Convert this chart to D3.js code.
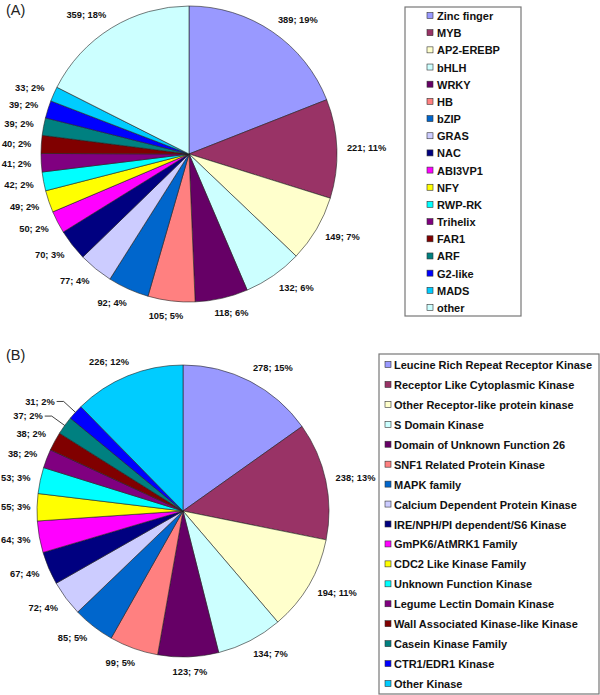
<!DOCTYPE html>
<html>
<head>
<meta charset="utf-8">
<script src="https://cdn.jsdelivr.net/npm/d3@7"></script>
<style>
  html, body { margin: 0; padding: 0; background: #fff; }
  svg { display: block; }
</style>
</head>
<body>
<svg id="chart" width="600" height="695"></svg>
<script>
// ---------- Data: panel A (transcription factor families) ----------
const categoriesA = ["Zinc finger","MYB","AP2-EREBP","bHLH","WRKY","HB","bZIP","GRAS","NAC","ABI3VP1","NFY","RWP-RK","Trihelix","FAR1","ARF","G2-like","MADS","other"];
const valuesA = [389,221,149,132,118,105,92,77,70,50,49,42,41,40,39,39,33,359];
const colorsA = ["#9999FF","#993366","#FFFFCC","#CCFFFF","#660066","#FF8080","#0066CC","#CCCCFF","#000080","#FF00FF","#FFFF00","#00FFFF","#800080","#800000","#008080","#0000FF","#00CCFF","#CCFFFF"];

// ---------- Data: panel B (kinase families) ----------
const categoriesB = ["Leucine Rich Repeat Receptor Kinase","Receptor Like Cytoplasmic Kinase","Other Receptor-like protein kinase","S Domain Kinase","Domain of Unknown Function 26","SNF1 Related Protein Kinase","MAPK family","Calcium Dependent Protein Kinase","IRE/NPH/PI dependent/S6 Kinase","GmPK6/AtMRK1 Family","CDC2 Like Kinase Family","Unknown Function Kinase","Legume Lectin Domain Kinase","Wall Associated Kinase-like Kinase","Casein Kinase Family","CTR1/EDR1 Kinase","Other Kinase"];
const valuesB = [278,238,194,134,123,99,85,72,67,64,55,53,38,38,37,31,226];
const colorsB = ["#9999FF","#993366","#FFFFCC","#CCFFFF","#660066","#FF8080","#0066CC","#CCCCFF","#000080","#FF00FF","#FFFF00","#00FFFF","#800080","#800000","#008080","#0000FF","#00CCFF"];

const svg = d3.select("#chart");
const labelFont = "'Liberation Sans', Arial, Helvetica, sans-serif";

function drawPanel(opts) {
  const { title, titleY, cats, vals, cols, cx, cy, r, legend, leaders } = opts;
  const total = d3.sum(vals);
  const data = cats.map((c, i) => ({ name: c, value: vals[i], color: cols[i], i }));
  const pie = d3.pie().value(d => d.value).sort(null);
  const arcs = pie(data);
  const arc = d3.arc().innerRadius(0).outerRadius(r);

  svg.append("text")
    .attr("x", 6).attr("y", titleY)
    .attr("font-family", labelFont).attr("font-size", 14.5)
    .attr("fill", "#222").text(title);

  const g = svg.append("g").attr("transform", `translate(${cx},${cy})`);
  g.selectAll("path").data(arcs).enter().append("path")
    .attr("d", arc)
    .attr("fill", d => d.data.color)
    .attr("stroke", "#222")
    .attr("stroke-width", 0.6);

  // labels
  const lblArc = d3.arc().innerRadius(r + 10).outerRadius(r + 10);
  const elbowArc = d3.arc().innerRadius(r + 16).outerRadius(r + 16);
  const edgeArc = d3.arc().innerRadius(r).outerRadius(r);
  const fs = 9.3;
  arcs.forEach(a => {
    const mid = (a.startAngle + a.endAngle) / 2;
    const s = Math.sin(mid), c = Math.cos(mid);
    const txt = `${a.data.value}; ${Math.round(a.data.value / total * 100)}%`;
    const t = g.append("text")
      .attr("font-family", labelFont)
      .attr("font-size", fs)
      .attr("font-weight", "bold")
      .attr("fill", "#111")
      .text(txt);
    const w = t.node().getComputedTextLength();
    if (leaders && leaders.includes(a.index)) {
      const e = edgeArc.centroid(a);
      const b = elbowArc.centroid(a);
      const hx = b[0] - 7;
      g.append("polyline")
        .attr("points", `${e[0]},${e[1]} ${b[0]},${b[1]} ${hx},${b[1]}`)
        .attr("fill", "none").attr("stroke", "#111").attr("stroke-width", 0.8);
      t.attr("x", hx - 2 - w).attr("y", b[1] + fs * 0.35);
    } else {
      const p = lblArc.centroid(a);
      const k = Math.max(-1, Math.min(1, s * 2));
      const centerX = p[0] + k * w / 2;
      const centerY = p[1] - c * 5;
      const x0 = Math.max(1 - cx, centerX - w / 2);
      t.attr("x", x0).attr("y", centerY + fs * 0.35);
    }
  });

  // legend
  const L = legend;
  svg.append("rect")
    .attr("x", L.x).attr("y", L.y).attr("width", L.w).attr("height", L.h)
    .attr("fill", "#fff").attr("stroke", "#777").attr("stroke-width", 1.2);
  const ys = d3.scalePoint().domain(cats).range([L.first, L.last]);
  const lg = svg.append("g");
  data.forEach(d => {
    const y = ys(d.name);
    lg.append("rect")
      .attr("x", L.sx).attr("y", y - 3.5).attr("width", 6).attr("height", 6)
      .attr("fill", d.color).attr("stroke", "#333").attr("stroke-width", 0.6);
    lg.append("text")
      .attr("x", L.tx).attr("y", y + 4)
      .attr("font-family", labelFont).attr("font-size", 11)
      .attr("font-weight", "bold").attr("fill", "#111")
      .text(d.name);
  });
}

drawPanel({
  title: "(A)", titleY: 15,
  cats: categoriesA, vals: valuesA, cols: colorsA,
  cx: 189, cy: 154, r: 148,
  legend: { x: 405, y: 7, w: 116, h: 309, first: 16, last: 308, sx: 427, tx: 437 }
});

drawPanel({
  title: "(B)", titleY: 360,
  cats: categoriesB, vals: valuesB, cols: colorsB,
  cx: 183, cy: 511, r: 146,
  legend: { x: 379, y: 354, w: 220, h: 340, first: 365, last: 684, sx: 385, tx: 394 },
  leaders: [14, 15]
});
</script>
</body>
</html>
